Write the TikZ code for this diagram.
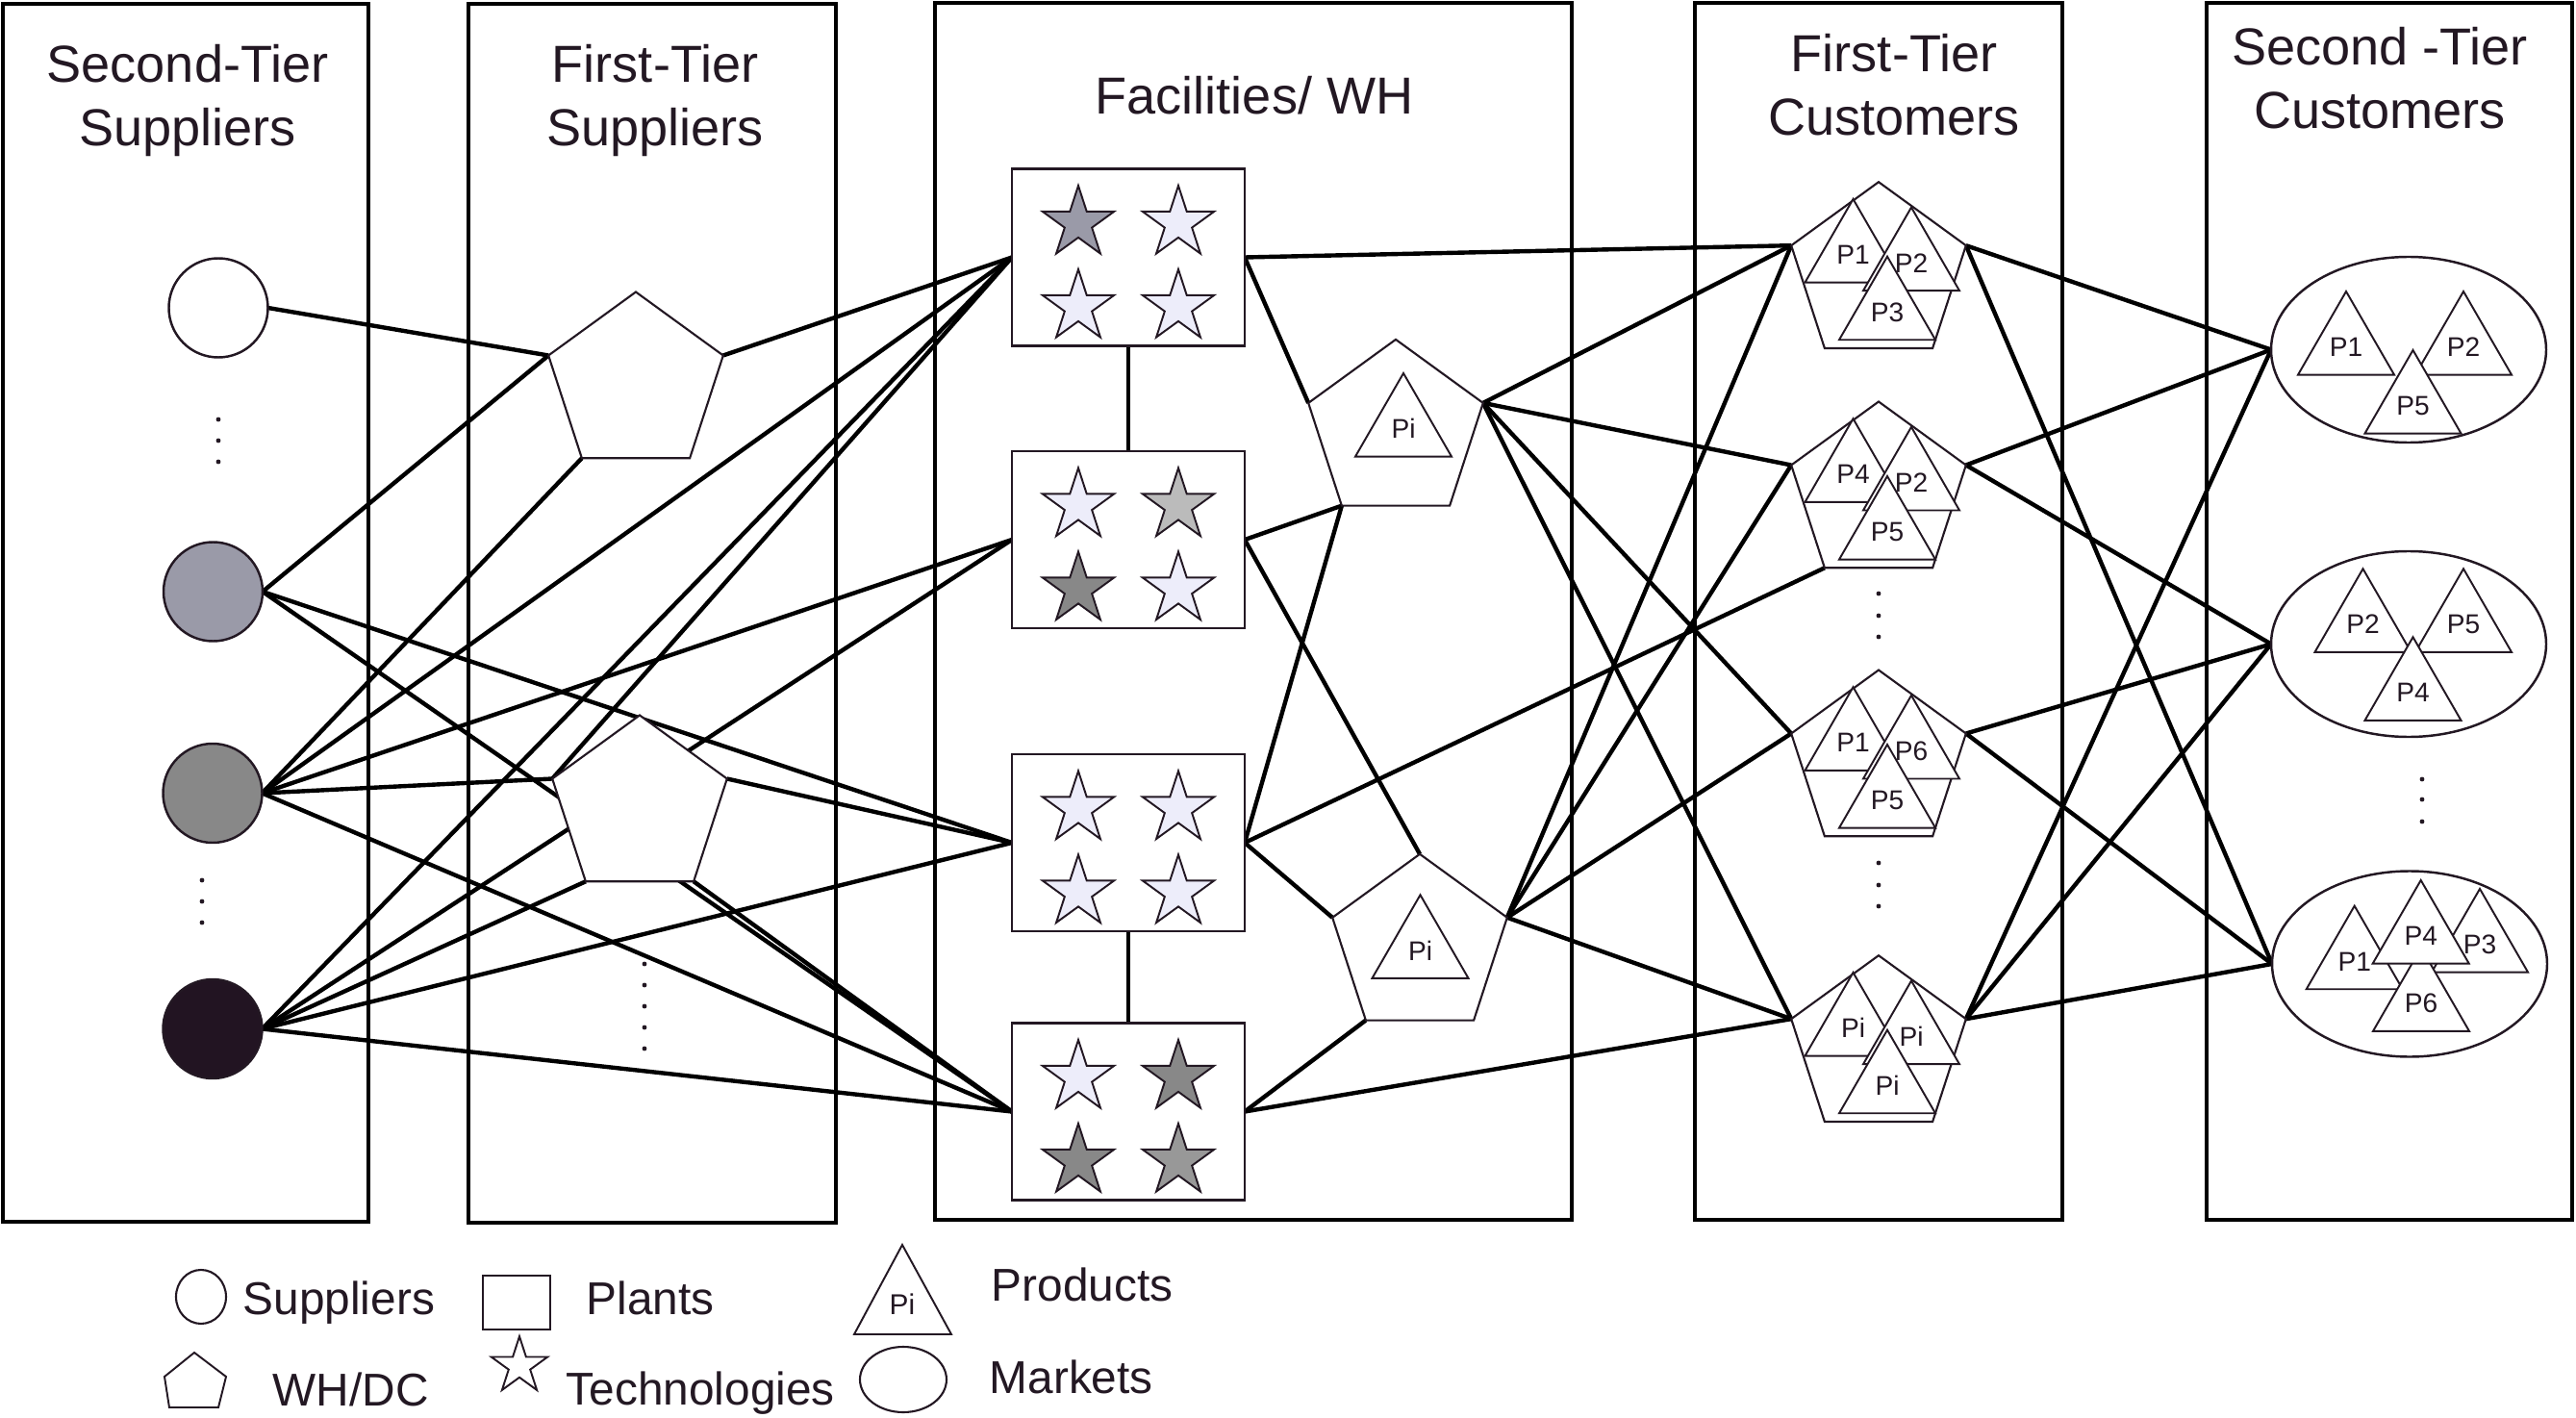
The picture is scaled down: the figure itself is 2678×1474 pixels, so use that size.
\documentclass[tikz,border=0pt]{standalone}
\usepackage{fontspec}
\setmainfont{Liberation Sans}
\usetikzlibrary{shapes.geometric, backgrounds}

\definecolor{ink}{RGB}{35,24,35}
\definecolor{slate}{RGB}{154,154,168}
\definecolor{midgray}{RGB}{136,136,136}
\definecolor{darkdot}{RGB}{34,20,34}
\definecolor{lavender}{RGB}{237,237,250}
\definecolor{palegray}{RGB}{187,187,187}
\definecolor{stonegray}{RGB}{152,152,152}

\begin{document}
\begin{tikzpicture}[
    x=0.1mm, y=-0.1mm,
    color=ink,
    tier/.style={draw, line width=1.4pt},
    heading/.style={font=\fontsize{15.4}{18.8}\selectfont, align=center, anchor=north, inner sep=0pt},
    supplier/.style={circle, draw, line width=0.7pt, minimum size=10.3mm, inner sep=0pt, outer sep=0pt},
    whdc/.style={regular polygon, regular polygon sides=5, draw, line width=0.6pt, fill=white,
        minimum size=19.1mm, inner sep=0pt, outer sep=0pt},
    plant/.style={draw, line width=0.7pt, fill=white, minimum width=24.2mm, minimum height=18.4mm,
        inner sep=0pt, outer sep=0pt},
    product/.style={regular polygon, regular polygon sides=3, draw, line width=0.55pt, fill=white,
        minimum size=11.55mm, inner sep=0pt, font=\fontsize{8}{9}\selectfont},
    market/.style={ellipse, draw, line width=0.7pt, fill=white, minimum width=28.6mm,
        minimum height=19.3mm, inner sep=0pt, outer sep=0pt},
    flow/.style={line width=1.25pt},
    keytext/.style={font=\fontsize{13.6}{16}\selectfont, anchor=base west, inner sep=0pt},
    techstar/.pic={
        \filldraw[fill=#1, line width=0.55pt] (90:3.9mm) -- (126:1.49mm) -- (162:3.9mm) -- (198:1.49mm)
            -- (234:3.9mm) -- (270:1.49mm) -- (306:3.9mm) -- (342:1.49mm) -- (18:3.9mm) -- (54:1.49mm) -- cycle;
    }
]
    \useasboundingbox (0,0) rectangle (2678,1474);

    \node[heading] (head1) at (195,45.4) {Second-Tier\\Suppliers};
    \node[heading] (head2) at (681,45.4) {First-Tier\\Suppliers};
    \node[heading] (head3) at (1304,78.4) {Facilities/ WH};
    \node[heading] (head4) at (1969,34.4) {First-Tier\\Customers};
    \node[heading] (head5) at (2474,27.4) {Second -Tier\\Customers};

    \node[supplier, fill=white] (sup0) at (227,320) {};
    \node[supplier, fill=slate] (sup1) at (221.5,615) {};
    \node[supplier, fill=midgray] (sup2) at (221,824.5) {};
    \node[supplier, fill=darkdot] (sup3) at (221,1069.5) {};

    \node[whdc] (fts1) at (661,399) {};
    \node[whdc] (fts2) at (665,839) {};

    \node[plant] (plant1) at (1173,267.5) {};
    \pic at (1121,232) {techstar=slate};
    \pic at (1225,232) {techstar=lavender};
    \pic at (1121,319) {techstar=lavender};
    \pic at (1225,319) {techstar=lavender};
    \node[plant] (plant2) at (1173,561) {};
    \pic at (1121,525.5) {techstar=lavender};
    \pic at (1225,525.5) {techstar=palegray};
    \pic at (1121,612.5) {techstar=midgray};
    \pic at (1225,612.5) {techstar=lavender};
    \node[plant] (plant3) at (1173,876) {};
    \pic at (1121,840.5) {techstar=lavender};
    \pic at (1225,840.5) {techstar=lavender};
    \pic at (1121,927.5) {techstar=lavender};
    \pic at (1225,927.5) {techstar=lavender};
    \node[plant] (plant4) at (1173,1155.5) {};
    \pic at (1121,1120) {techstar=lavender};
    \pic at (1225,1120) {techstar=midgray};
    \pic at (1121,1207) {techstar=midgray};
    \pic at (1225,1207) {techstar=stonegray};

    \node[whdc] (wh1) at (1451,448.4) {};
    \node[product] (wh1pi) at (1459,445.7) {Pi};
    \node[whdc] (wh2) at (1476,983.3) {};
    \node[product] (wh2pi) at (1476.5,988) {Pi};

    \node[whdc] (cust1) at (1953,284.7) {};
    \node[product] (c1a) at (1926.5,264.7) {P1};
    \node[product] (c1b) at (1987,273.3) {P2};
    \node[product] (c1c) at (1962,324.4) {P3};
    \node[whdc] (cust2) at (1953,513) {};
    \node[product] (c2a) at (1926.5,493) {P4};
    \node[product] (c2b) at (1987,501.6) {P2};
    \node[product] (c2c) at (1962,552.7) {P5};
    \node[whdc] (cust3) at (1953,792) {};
    \node[product] (c3a) at (1926.5,772) {P1};
    \node[product] (c3b) at (1987,780.6) {P6};
    \node[product] (c3c) at (1962,831.7) {P5};
    \node[whdc] (cust4) at (1953,1088.7) {};
    \node[product] (c4a) at (1926.5,1068.7) {Pi};
    \node[product] (c4b) at (1987,1077.3) {Pi};
    \node[product] (c4c) at (1962,1128.4) {Pi};

    \node[market] (mkt1) at (2504,363.5) {};
    \node[product] (m1a) at (2439,360.7) {P1};
    \node[product] (m1b) at (2561,360.7) {P2};
    \node[product] (m1c) at (2508.5,421.7) {P5};
    \node[market] (mkt2) at (2504,669.5) {};
    \node[product] (m2a) at (2456.5,649) {P2};
    \node[product] (m2b) at (2561,649) {P5};
    \node[product] (m2c) at (2508.5,720) {P4};
    \node[market] (mkt3) at (2505,1002) {};
    \node[product] (m3a) at (2447.7,999.4) {P1};
    \node[product] (m3b) at (2578,981.7) {P3};
    \node[product] (m3c) at (2517,1043) {P6};
    \node[product] (m3d) at (2516.7,972.7) {P4};

    \fill (227,436) circle (0.24mm);
    \fill (227,458) circle (0.24mm);
    \fill (227,480) circle (0.24mm);
    \fill (210,915) circle (0.24mm);
    \fill (210,937) circle (0.24mm);
    \fill (210,959) circle (0.24mm);
    \fill (670,1002) circle (0.24mm);
    \fill (670,1024) circle (0.24mm);
    \fill (670,1046) circle (0.24mm);
    \fill (670,1068) circle (0.24mm);
    \fill (670,1090) circle (0.24mm);
    \fill (1953,617) circle (0.24mm);
    \fill (1953,640) circle (0.24mm);
    \fill (1953,662) circle (0.24mm);
    \fill (1953,897) circle (0.24mm);
    \fill (1953,920) circle (0.24mm);
    \fill (1953,942) circle (0.24mm);
    \fill (2518,810) circle (0.24mm);
    \fill (2518,831) circle (0.24mm);
    \fill (2518,854) circle (0.24mm);

    \begin{scope}[on background layer]
        \draw[tier] (3,4) rectangle (383,1270);
        \draw[tier] (487,4) rectangle (869,1271);
        \draw[tier] (972,3) rectangle (1634,1268);
        \draw[tier] (1762,3) rectangle (2144,1268);
        \draw[tier] (2294,3) rectangle (2674,1268);

        \draw[flow] (sup0.east) -- (fts1.corner 2);
        \draw[flow] (sup1.east) -- (fts1.corner 2);
        \draw[flow] (sup1.east) -- (plant3.west);
        \draw[flow] (sup1.east) -- (plant4.west);
        \draw[flow] (sup2.east) -- (fts1.corner 3);
        \draw[flow] (sup2.east) -- (plant1.west);
        \draw[flow] (sup2.east) -- (plant2.west);
        \draw[flow] (sup2.east) -- (fts2.corner 2);
        \draw[flow] (sup2.east) -- (plant4.west);
        \draw[flow] (sup3.east) -- (plant1.west);
        \draw[flow] (sup3.east) -- (fts2.corner 3);
        \draw[flow] (sup3.east) -- (plant2.west);
        \draw[flow] (sup3.east) -- (plant3.west);
        \draw[flow] (sup3.east) -- (plant4.west);
        \draw[flow] (fts1.corner 5) -- (plant1.west);
        \draw[flow] (fts2.corner 2) -- (plant1.west);
        \draw[flow] (fts2.corner 5) -- (plant3.west);
        \draw[flow] (fts2.corner 4) -- (plant4.west);

        \draw[flow] (plant1.south) -- (plant2.north);
        \draw[flow] (plant3.south) -- (plant4.north);

        \draw[flow] (plant1.east) -- (cust1.corner 2);
        \draw[flow] (plant1.east) -- (wh1.corner 2);
        \draw[flow] (plant2.east) -- (wh1.corner 3);
        \draw[flow] (plant2.east) -- (wh2.corner 1);
        \draw[flow] (plant3.east) -- (wh1.corner 3);
        \draw[flow] (plant3.east) -- (cust2.corner 3);
        \draw[flow] (plant3.east) -- (wh2.corner 2);
        \draw[flow] (plant4.east) -- (wh2.corner 3);
        \draw[flow] (plant4.east) -- (cust4.corner 2);

        \draw[flow] (wh1.corner 5) -- (cust1.corner 2);
        \draw[flow] (wh1.corner 5) -- (cust2.corner 2);
        \draw[flow] (wh1.corner 5) -- (cust3.corner 2);
        \draw[flow] (wh1.corner 5) -- (cust4.corner 2);
        \draw[flow] (wh2.corner 5) -- (cust1.corner 2);
        \draw[flow] (wh2.corner 5) -- (cust2.corner 2);
        \draw[flow] (wh2.corner 5) -- (cust3.corner 2);
        \draw[flow] (wh2.corner 5) -- (cust4.corner 2);

        \draw[flow] (cust1.corner 5) -- (mkt1.west);
        \draw[flow] (cust1.corner 5) -- (mkt3.west);
        \draw[flow] (cust2.corner 5) -- (mkt1.west);
        \draw[flow] (cust2.corner 5) -- (mkt2.west);
        \draw[flow] (cust3.corner 5) -- (mkt2.west);
        \draw[flow] (cust3.corner 5) -- (mkt3.west);
        \draw[flow] (cust4.corner 5) -- (mkt1.west);
        \draw[flow] (cust4.corner 5) -- (mkt2.west);
        \draw[flow] (cust4.corner 5) -- (mkt3.west);
    \end{scope}

    \node[ellipse, draw, line width=0.6pt, minimum width=5.2mm, minimum height=5.6mm, inner sep=0pt] (keysup) at (209,1348) {};
    \node[keytext] (keysuptext) at (252,1366) {Suppliers};
    \node[draw, line width=0.6pt, minimum width=7mm, minimum height=5.6mm, inner sep=0pt] (keyplant) at (537,1354) {};
    \node[keytext] (keyplanttext) at (609,1366) {Plants};
    \draw[line width=0.55pt] (938,1294) -- (989,1387) -- (888,1387) -- cycle;
    \node[font=\fontsize{8.5}{10}\selectfont, inner sep=0pt] (keypi) at (938,1356) {Pi};
    \node[keytext] (keyprodtext) at (1030,1352) {Products};
    \draw[line width=0.55pt] (202,1406) -- (171,1431) -- (176,1463) -- (227,1463) -- (235,1431) -- cycle;
    \node[keytext] (keywhtext) at (283,1461) {WH/DC};
    \pic[scale=0.79] at (540,1420) {techstar=white};
    \node[keytext] (keytechtext) at (588,1460) {Technologies};
    \node[ellipse, draw, line width=0.6pt, minimum width=9mm, minimum height=6.8mm, inner sep=0pt] (keymkt) at (939,1434) {};
    \node[keytext] (keymkttext) at (1028,1448) {Markets};
\end{tikzpicture}
\end{document}
